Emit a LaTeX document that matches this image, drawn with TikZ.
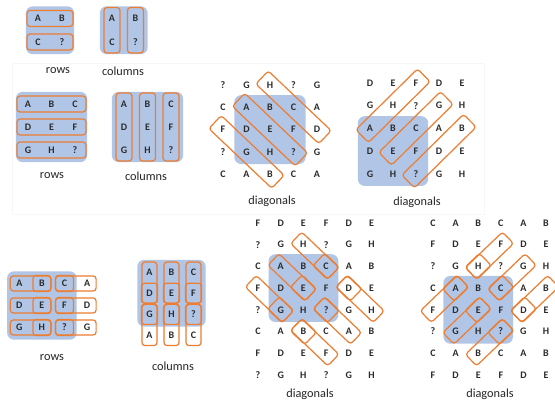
\documentclass[tikz,border=0pt]{standalone}
\usepackage{fontspec}
\setmainfont{Carlito}
\usetikzlibrary{calc,fit,backgrounds}

\definecolor{cellblue}{HTML}{B1C6E6}
\definecolor{pickorange}{HTML}{ED7D31}
\definecolor{inkgray}{HTML}{2B2B2B}

\tikzset{
  letter/.style  = {font=\fontsize{10}{11}\selectfont\bfseries, text=inkgray,
                    inner sep=0pt, minimum size=7pt},
  caption/.style = {font=\fontsize{12.3}{14}\selectfont, text=black!85},
  cellbg/.style  = {fill=cellblue, rounded corners=7pt, inner sep=8.5pt},
  obox/.style    = {draw=pickorange, line width=1.2pt, rounded corners=3pt,
                    inner sep=0pt},
  box pad/.store in   = \boxpad,
  box thick/.store in = \boxthick,
  box pad = 10pt, box thick = 16pt
}

% letters of one panel: name, first x, first y, dx, dy, rows
\newcommand\lettergrid[6]{%
  \foreach \row [count=\ri] in {#6} {
    \foreach \ch [count=\ci] in \row {
      \node[letter] (#1-\ri-\ci) at ({#2+(\ci-1)*#4},{#3+(\ri-1)*#5}) {\ch};
    }
  }}
% blue square behind a block of letters
\newcommand\cellsquare[3]{%
  \begin{scope}[on background layer]
    \node[cellbg, fit=(#2)(#3)] (#1-bg) {};
  \end{scope}}
% orange box along a run of letters
\newcommand\pairbox[2]{%
  \path let \p1 = ($(#2)-(#1)$), \n1 = {veclen(\x1,\y1)} in
    (#1.center) -- (#2.center) node[obox, midway, sloped,
      minimum width=\n1+2*\boxpad, minimum height=\boxthick] (#1-to-#2) {};}
% orange box round a single letter
\newcommand\cellbox[2]{%
  \node[obox, rotate=#1, minimum width=2*\boxpad,
        minimum height=\boxthick+1pt] (#2-one) at (#2) {};}

\begin{document}
\begin{tikzpicture}[x=1pt, y=-1pt]
  \useasboundingbox (0,0) rectangle (555,403);
  \begin{scope}[on background layer]
    \fill[white] (0,0) rectangle (555,403);
    \draw[black!3] (12,63) rectangle (484,214);
  \end{scope}
  \clip (0,0) rectangle (555,403);

  % 2x2: rows and columns
  \lettergrid{ra}{38}{18.5}{24}{23.5}{{A,B},{C,?}}
  \cellsquare{ra}{ra-1-1}{ra-2-2}
  \begin{scope}[box pad=11pt]
    \pairbox{ra-1-1}{ra-1-2}
    \pairbox{ra-2-1}{ra-2-2}
  \end{scope}
  \node[caption] (ra-cap) at (58,71) {rows};

  \lettergrid{ca}{112}{18.5}{23.5}{23.5}{{A,B},{C,?}}
  \cellsquare{ca}{ca-1-1}{ca-2-2}
  \begin{scope}[box pad=11pt]
    \pairbox{ca-1-1}{ca-2-1}
    \pairbox{ca-1-2}{ca-2-2}
  \end{scope}
  \node[caption] (ca-cap) at (123,71) {columns};

  % 3x3: rows, columns, both diagonals
  \lettergrid{rb}{28}{104}{23.5}{23}{{A,B,C},{D,E,F},{G,H,?}}
  \cellsquare{rb}{rb-1-1}{rb-3-3}
  \begin{scope}[box pad=11pt]
    \foreach \r in {1,2,3} { \pairbox{rb-\r-1}{rb-\r-3} }
  \end{scope}
  \node[caption] (rb-cap) at (52,176) {rows};

  \lettergrid{cb}{124}{104}{23.5}{23}{{A,B,C},{D,E,F},{G,H,?}}
  \cellsquare{cb}{cb-1-1}{cb-3-3}
  \begin{scope}[box pad=11pt]
    \foreach \c in {1,2,3} { \pairbox{cb-1-\c}{cb-3-\c} }
  \end{scope}
  \node[caption] (cb-cap) at (146,176) {columns};

  \lettergrid{da}{223}{85}{23.5}{22.3}{{?,G,H,?,G},{C,A,B,C,A},{F,D,E,F,D},
    {?,G,H,?,G},{C,A,B,C,A}}
  \cellsquare{da}{da-2-2}{da-4-4}
  \begin{scope}[box pad=11pt, box thick=18pt]
    \pairbox{da-1-3}{da-3-5}
    \pairbox{da-2-2}{da-4-4}
    \pairbox{da-3-1}{da-5-3}
  \end{scope}
  \node[caption] (da-cap) at (272,201) {diagonals};

  \lettergrid{aa}{370}{83}{23}{22.7}{{D,E,F,D,E},{G,H,?,G,H},{A,B,C,A,B},
    {D,E,F,D,E},{G,H,?,G,H}}
  \cellsquare{aa}{aa-3-1}{aa-5-3}
  \begin{scope}[box pad=11pt, box thick=18pt]
    \pairbox{aa-3-1}{aa-1-3}
    \pairbox{aa-4-2}{aa-2-4}
    \pairbox{aa-5-3}{aa-3-5}
  \end{scope}
  \node[caption] (aa-cap) at (417,202) {diagonals};

  % 3x3 with wrap-around: pairs and single letters
  \lettergrid{rc}{19.3}{283.5}{22.6}{22}{{A,B,C,A},{D,E,F,D},{G,H,?,G}}
  \cellsquare{rc}{rc-1-1}{rc-3-3}
  \begin{scope}[box pad=9pt, box thick=15pt]
    \foreach \r in {1,2,3} {
      \pairbox{rc-\r-1}{rc-\r-2}
      \cellbox{0}{rc-\r-2}
      \cellbox{0}{rc-\r-3}
      \pairbox{rc-\r-3}{rc-\r-4}
    }
  \end{scope}
  \node[caption] (rc-cap) at (52,358) {rows};

  \lettergrid{cc}{149.5}{272}{22}{21.2}{{A,B,C},{D,E,F},{G,H,?},{A,B,C}}
  \cellsquare{cc}{cc-1-1}{cc-3-3}
  \begin{scope}[box pad=10pt, box thick=15pt]
    \foreach \c in {1,2,3} {
      \pairbox{cc-1-\c}{cc-2-\c}
      \cellbox{90}{cc-2-\c}
      \cellbox{90}{cc-3-\c}
      \pairbox{cc-3-\c}{cc-4-\c}
    }
  \end{scope}
  \node[caption] (cc-cap) at (173,366) {columns};

  \lettergrid{db}{258}{223}{22.7}{21.7}{{F,D,E,F,D,E},{?,G,H,?,G,H},
    {C,A,B,C,A,B},{F,D,E,F,D,E},{?,G,H,?,G,H},{C,A,B,C,A,B},
    {F,D,E,F,D,E},{?,G,H,?,G,H}}
  \cellsquare{db}{db-3-2}{db-5-4}
  \begin{scope}[box pad=10pt, box thick=16pt]
    \foreach \r/\c in {3/2, 2/3, 4/1} {
      \pgfmathtruncatemacro\ra{\r+1} \pgfmathtruncatemacro\ca{\c+1}
      \pgfmathtruncatemacro\rb{\r+2} \pgfmathtruncatemacro\cb{\c+2}
      \pgfmathtruncatemacro\rd{\r+3} \pgfmathtruncatemacro\cd{\c+3}
      \pairbox{db-\r-\c}{db-\ra-\ca}
      \cellbox{-44}{db-\ra-\ca}
      \cellbox{-44}{db-\rb-\cb}
      \pairbox{db-\rb-\cb}{db-\rd-\cd}
    }
  \end{scope}
  \node[caption] (db-cap) at (310,394) {diagonals};

  \lettergrid{ab}{433}{223}{22.6}{21.7}{{C,A,B,C,A,B},{F,D,E,F,D,E},
    {?,G,H,?,G,H},{C,A,B,C,A,B},{F,D,E,F,D,E},{?,G,H,?,G,H},
    {C,A,B,C,A,B},{F,D,E,F,D,E}}
  \cellsquare{ab}{ab-4-2}{ab-6-4}
  \begin{scope}[box pad=10pt, box thick=16pt]
    \foreach \r/\c in {5/1, 6/2, 7/3} {
      \pgfmathtruncatemacro\ra{\r-1} \pgfmathtruncatemacro\ca{\c+1}
      \pgfmathtruncatemacro\rb{\r-2} \pgfmathtruncatemacro\cb{\c+2}
      \pgfmathtruncatemacro\rd{\r-3} \pgfmathtruncatemacro\cd{\c+3}
      \pairbox{ab-\r-\c}{ab-\ra-\ca}
      \cellbox{44}{ab-\ra-\ca}
      \cellbox{44}{ab-\rb-\cb}
      \pairbox{ab-\rb-\cb}{ab-\rd-\cd}
    }
  \end{scope}
  \node[caption] (ab-cap) at (490,394) {diagonals};
\end{tikzpicture}
\end{document}
